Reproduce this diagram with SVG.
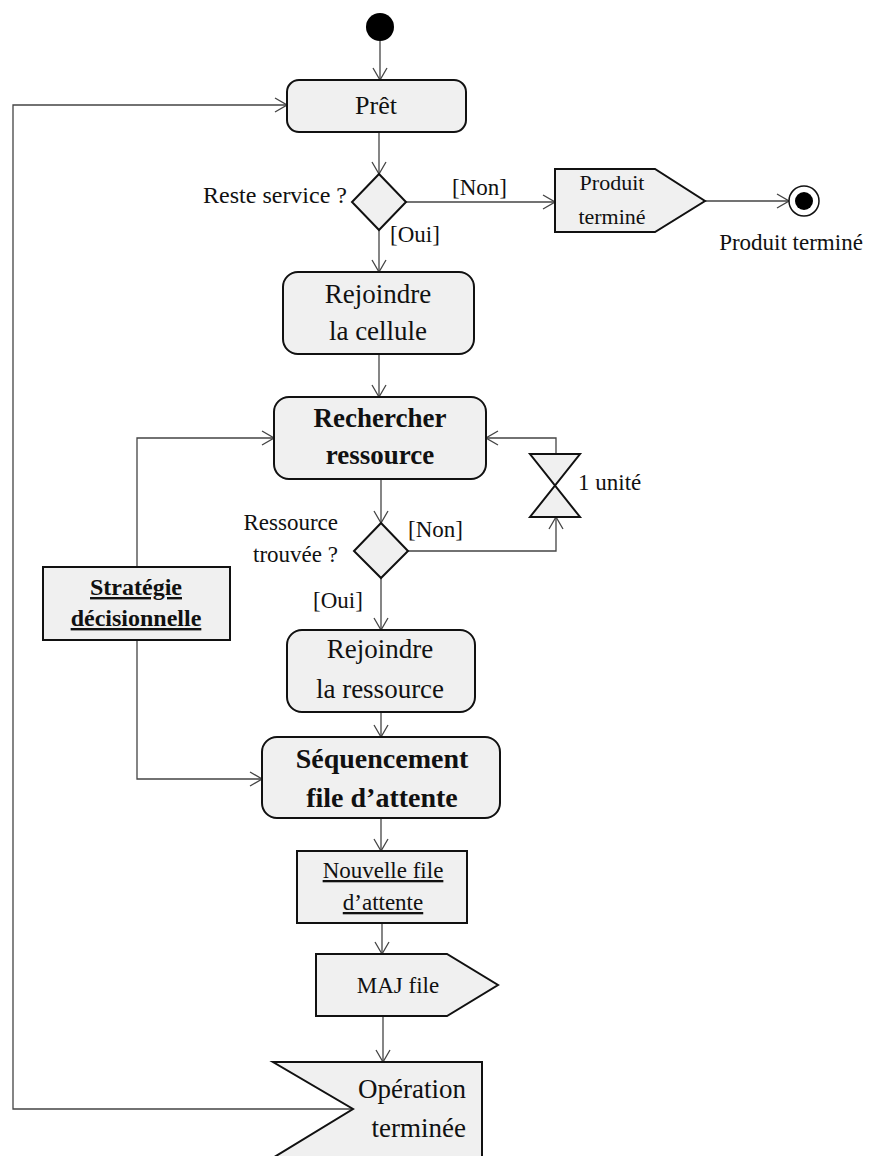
<svg xmlns="http://www.w3.org/2000/svg" width="878" height="1156" viewBox="0 0 878 1156">
<style>
.n{fill:#f0f0f0;stroke:#111;stroke-width:2}
.c{fill:none;stroke:#444;stroke-width:1.3}
.t{font-family:"Liberation Serif",serif;fill:#111;text-anchor:middle}
.e{font-family:"Liberation Serif",serif;fill:#111;text-anchor:end}
.l{font-family:"Liberation Serif",serif;fill:#111;font-size:23px}
.b{font-weight:bold}
.u{text-decoration:underline}
</style>
<defs>
<marker id="a" viewBox="-1 -8 14 16" refX="12" refY="0" markerWidth="14" markerHeight="16" markerUnits="userSpaceOnUse" orient="auto">
<path d="M0,-7 L12,0 L0,7" fill="none" stroke="#444" stroke-width="1.3"/>
</marker>
</defs>
<rect width="878" height="1156" fill="#fff"/>
<g id="connectors">
<path class="c" marker-end="url(#a)" d="M380,41 V80"/>
<path class="c" marker-end="url(#a)" d="M379,132 V174"/>
<path class="c" marker-end="url(#a)" d="M406,202 H555"/>
<path class="c" marker-end="url(#a)" d="M705,201 H789"/>
<path class="c" marker-end="url(#a)" d="M379,230 V272"/>
<path class="c" marker-end="url(#a)" d="M379,354 V397"/>
<path class="c" marker-end="url(#a)" d="M381,479 V523"/>
<path class="c" marker-end="url(#a)" d="M408,551 H556 V517"/>
<path class="c" marker-end="url(#a)" d="M556,454 V438 H486"/>
<path class="c" marker-end="url(#a)" d="M381,578 V630"/>
<path class="c" marker-end="url(#a)" d="M137,567 V438 H274"/>
<path class="c" marker-end="url(#a)" d="M137,640 V779 H262"/>
<path class="c" marker-end="url(#a)" d="M381,712 V737"/>
<path class="c" marker-end="url(#a)" d="M381,818 V851"/>
<path class="c" marker-end="url(#a)" d="M382,923 V954"/>
<path class="c" marker-end="url(#a)" d="M383,1016 V1062"/>
<path class="c" marker-end="url(#a)" d="M353,1109 H13 V105 H287"/>
<text class="l" x="452" y="195">[Non]</text>
<text class="l" x="390" y="242">[Oui]</text>
<text class="l" x="408" y="537">[Non]</text>
<text class="l" x="313" y="608">[Oui]</text>
</g>
<g id="start"><circle cx="380" cy="27" r="14" fill="#000"/></g>
<g id="pret">
<rect class="n" x="287" y="80" width="179" height="52" rx="12"/>
<text class="t" x="376" y="114" font-size="26">Prêt</text>
</g>
<g id="decision1">
<path class="n" d="M379,174 L406,202 L379,230 L352,202 Z"/>
<text class="e" x="347" y="203" font-size="24">Reste service ?</text>
</g>
<g id="produit-signal">
<path class="n" d="M555,169 H655 L705,201 L655,232 H555 Z"/>
<text class="t" x="612" y="190" font-size="22">Produit</text>
<text class="t" x="612" y="224" font-size="22">terminé</text>
</g>
<g id="final">
<circle cx="804" cy="201" r="15" fill="#fff" stroke="#111" stroke-width="1.5"/>
<circle cx="804" cy="201" r="9" fill="#000"/>
<text class="t" x="791" y="250" font-size="23">Produit terminé</text>
</g>
<g id="rejoindre-cellule">
<rect class="n" x="283" y="272" width="191" height="82" rx="15"/>
<text class="t" x="378" y="303" font-size="27">Rejoindre</text>
<text class="t" x="378" y="340" font-size="27">la cellule</text>
</g>
<g id="rechercher">
<rect class="n" x="274" y="397" width="212" height="82" rx="15"/>
<text class="t b" x="380" y="427" font-size="27">Rechercher</text>
<text class="t b" x="380" y="464" font-size="27">ressource</text>
</g>
<g id="attente">
<path class="n" d="M530,454 H580 L530,517 H580 Z"/>
<text class="l" x="578" y="490">1 unité</text>
</g>
<g id="decision2">
<path class="n" d="M381,523 L408,551 L381,578 L354,551 Z"/>
<text class="e" x="338" y="530" font-size="23">Ressource</text>
<text class="e" x="338" y="562" font-size="23">trouvée ?</text>
</g>
<g id="strategie">
<rect class="n" x="43" y="567" width="187" height="73"/>
<text class="t b u" x="136" y="595" font-size="24">Stratégie</text>
<text class="t b u" x="136" y="626" font-size="24">décisionnelle</text>
</g>
<g id="rejoindre-ressource">
<rect class="n" x="287" y="630" width="188" height="82" rx="15"/>
<text class="t" x="380" y="658" font-size="27">Rejoindre</text>
<text class="t" x="380" y="698" font-size="27">la ressource</text>
</g>
<g id="sequencement">
<rect class="n" x="262" y="737" width="238" height="81" rx="15"/>
<text class="t b" x="382" y="768" font-size="28">Séquencement</text>
<text class="t b" x="382" y="807" font-size="28">file d’attente</text>
</g>
<g id="nouvelle-file">
<rect class="n" x="297" y="851" width="170" height="72"/>
<text class="t u" x="383" y="878" font-size="23">Nouvelle file</text>
<text class="t u" x="383" y="910" font-size="23">d’attente</text>
</g>
<g id="maj-file">
<path class="n" d="M316,954 H447 L498,985 L447,1016 H316 Z"/>
<text class="t" x="398" y="993" font-size="23">MAJ file</text>
</g>
<g id="operation-terminee">
<path class="n" d="M273,1062 H482 V1170 H253 L353,1109 Z"/>
<text class="e" x="466" y="1098" font-size="27">Opération</text>
<text class="e" x="466" y="1137" font-size="27">terminée</text>
</g>
</svg>
